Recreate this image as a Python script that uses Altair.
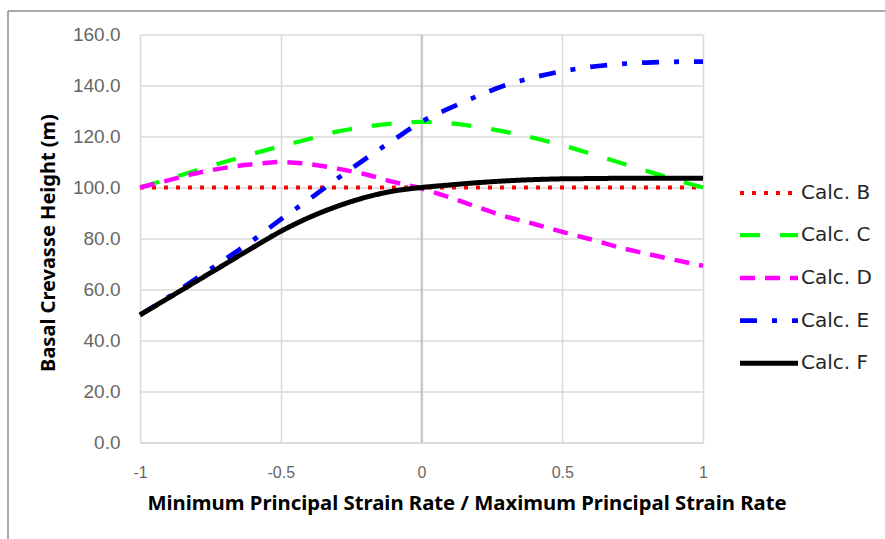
import altair as alt
import pandas as pd

# Strain-rate ratio (minimum / maximum principal strain rate)
ratio = [-1.0, -0.9, -0.8, -0.7, -0.6, -0.5, -0.4, -0.3, -0.2, -0.1, 0.0,
         0.1, 0.2, 0.3, 0.4, 0.5, 0.6, 0.7, 0.8, 0.9, 1.0]

# Basal crevasse height (m) for each calculation
calc_b = [100, 100, 100, 100, 100, 100, 100, 100, 100, 100, 100,
          100, 100, 100, 100, 100, 100, 100, 100, 100, 100]
calc_c = [100, 103.3, 106.7, 110.0, 113.2, 116.2, 119.0, 121.9, 123.8, 125.1, 125.7,
          125.2, 123.8, 121.8, 119.4, 116.6, 113.3, 109.9, 106.5, 103.1, 100]
calc_d = [100, 102.8, 105.6, 107.7, 109.1, 110.0, 109.2, 107.4, 105.2, 102.2, 99.6,
          96.1, 92.3, 88.6, 85.7, 82.6, 79.7, 76.6, 74.0, 71.6, 69.3]
calc_e = [50, 57.0, 64.3, 71.7, 79.2, 87.5, 95.3, 103.4, 111.2, 118.6, 125.8,
          131.1, 135.9, 140.2, 143.2, 145.6, 147.3, 148.4, 149.0, 149.3, 149.4]
calc_f = [50, 56.6, 63.2, 69.8, 76.4, 82.8, 88.2, 92.6, 96.1, 98.6, 100,
          101.0, 101.9, 102.6, 103.1, 103.4, 103.5, 103.6, 103.6, 103.6, 103.6]

series_names = ["Calc. B", "Calc. C", "Calc. D", "Calc. E", "Calc. F"]
series_values = [calc_b, calc_c, calc_d, calc_e, calc_f]
series_colors = ["#ff0000", "#00ff00", "#ff00ff", "#0000ff", "#000000"]
series_dashes = [[4, 8], [20, 20], [15, 10], [17, 15, 5, 15], [1, 0]]
series_widths = [4, 5, 5, 5, 6]

x_ticks = [-1, -0.5, 0, 0.5, 1]
y_ticks = [0, 20, 40, 60, 80, 100, 120, 140, 160]

rows = []
for name, values in zip(series_names, series_values):
    for r, h in zip(ratio, values):
        rows.append({"ratio": r, "height": h, "series": name})
df = pd.DataFrame(rows)

x_enc = alt.X(
    "ratio:Q",
    scale=alt.Scale(domain=[-1, 1], nice=False, zero=False),
    axis=alt.Axis(
        values=x_ticks, labelExpr="'' + datum.value", labelFlush=False,
        title="Minimum Principal Strain Rate / Maximum Principal Strain Rate",
        titleX=326.5,
    ),
)
y_enc = alt.Y(
    "height:Q",
    scale=alt.Scale(domain=[0, 160], nice=False),
    axis=alt.Axis(values=y_ticks, format=".1f", title="Basal Crevasse Height (m)",
                  titleY=208),
)


def series_legend():
    return alt.Legend(
        title=None, orient="none", legendX=611.5, legendY=141.5, padding=0,
        symbolType="M-1.933,0H1.933", symbolSize=900, symbolStrokeWidth=5,
        labelFontSize=20, labelOffset=14.5, rowPadding=14.7,
        labelFont="DejaVu Sans", labelColor="#262626",
    )


lines = alt.Chart(df).mark_line(interpolate="monotone", strokeCap="butt").encode(
    x=x_enc,
    y=y_enc,
    color=alt.Color(
        "series:N",
        scale=alt.Scale(domain=series_names, range=series_colors),
        legend=series_legend(),
    ),
    strokeDash=alt.StrokeDash(
        "series:N",
        scale=alt.Scale(domain=series_names, range=series_dashes),
        legend=series_legend(),
    ),
    strokeWidth=alt.StrokeWidth(
        "series:N",
        scale=alt.Scale(domain=series_names, range=series_widths),
        legend=None,
    ),
)

# Vertical axis crossing at zero
zero_line = alt.Chart().mark_rule(color="#bfbfbf", strokeWidth=1.5).encode(
    x=alt.datum(0)
)

# Outer chart frame (top and left edges)
frame_top = alt.Chart().mark_rule(color="#8c8c8c", strokeWidth=1.5).encode(
    x=alt.value(-132), x2=alt.value(760), y=alt.value(-23.5)
)
frame_left = alt.Chart().mark_rule(color="#8c8c8c", strokeWidth=1.5).encode(
    x=alt.value(-132), y=alt.value(-23.5), y2=alt.value(520)
)

chart = alt.layer(zero_line, lines, frame_top, frame_left).properties(
    width=563,
    height=408,
    autosize="none",
    padding={"left": 140, "top": 34.5, "right": 182, "bottom": 96.5},
    background="white",
).configure_view(stroke=None).configure_axis(
    grid=True, gridColor="#d9d9d9", gridWidth=1.5,
    domainColor="#d9d9d9", domainWidth=1.5,
    ticks=False,
    labelColor="#666666", labelFont="Liberation Sans",
    titleColor="#000000", titleFontWeight="bold", titleFont="Noto Sans",
).configure_axisX(
    labelPadding=22, titlePadding=13, domain=True, labelFontSize=16,
    titleFontSize=20.3,
).configure_axisY(
    labelPadding=20, titlePadding=14, domain=False, labelFontSize=19,
    titleFontSize=20,
)

chart.save("out.html", embed_options={"renderer": "svg", "actions": False})
